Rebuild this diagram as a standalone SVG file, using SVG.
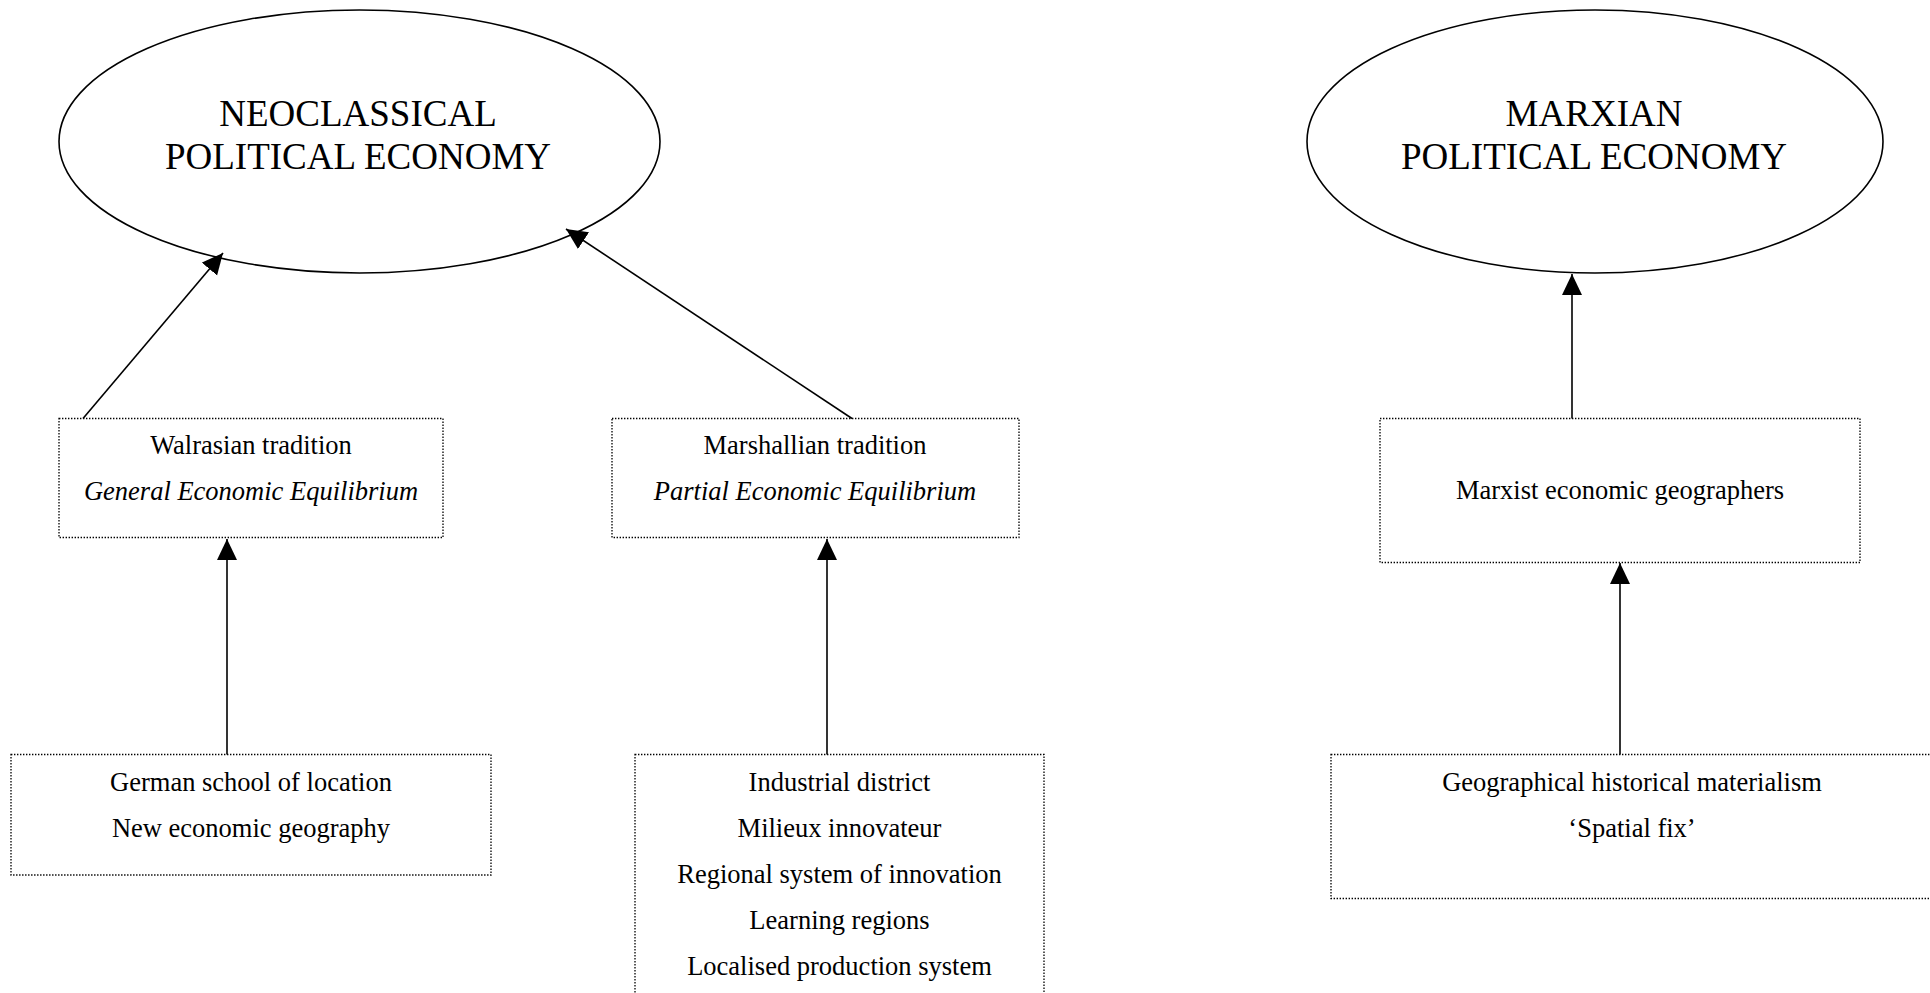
<svg xmlns="http://www.w3.org/2000/svg" width="1930" height="993" viewBox="0 0 1930 993">
<style>
.ell{fill:#fff;stroke:#000;stroke-width:1.6}
.box{fill:#fff;stroke:#000;stroke-width:1.3;stroke-dasharray:1.4 1.6}
.big{font-family:"Liberation Serif","Times New Roman",serif;font-size:37px;fill:#000;text-anchor:middle}
.t{font-family:"Liberation Serif","Times New Roman",serif;font-size:26.5px;fill:#000;text-anchor:middle}
.it{font-style:italic}
.con{stroke:#000;stroke-width:1.6;fill:none;marker-end:url(#ah)}
</style>
<defs>
<marker id="ah" markerUnits="userSpaceOnUse" markerWidth="22" markerHeight="21" refX="21" refY="10" orient="auto">
<path d="M0,0 L21,10 L0,20 z" fill="#000"/>
</marker>
</defs>
<rect width="1930" height="993" fill="#fff"/>
<g id="neoclassical">
<ellipse class="ell" cx="359.5" cy="141.5" rx="300.5" ry="131.5"/>
<text class="big" x="358" y="126">NEOCLASSICAL</text>
<text class="big" x="358" y="169">POLITICAL ECONOMY</text>
</g>
<g id="marxian">
<ellipse class="ell" cx="1595" cy="141.5" rx="288" ry="131.5"/>
<text class="big" x="1594" y="126">MARXIAN</text>
<text class="big" x="1594" y="169">POLITICAL ECONOMY</text>
</g>
<g id="walrasian">
<rect class="box" x="59" y="418.5" width="384" height="119"/>
<text class="t" x="251" y="454">Walrasian tradition</text>
<text class="t it" x="251" y="500">General Economic Equilibrium</text>
</g>
<g id="marshallian">
<rect class="box" x="612" y="418.5" width="407" height="119"/>
<text class="t" x="815" y="454">Marshallian tradition</text>
<text class="t it" x="815" y="500">Partial Economic Equilibrium</text>
</g>
<g id="marxist">
<rect class="box" x="1380" y="418.5" width="480" height="144"/>
<text class="t" x="1620" y="499">Marxist economic geographers</text>
</g>
<g id="german">
<rect class="box" x="11" y="754.5" width="480" height="120.5"/>
<text class="t" x="251" y="791">German school of location</text>
<text class="t" x="251" y="837">New economic geography</text>
</g>
<g id="industrial">
<rect class="box" x="635" y="754.5" width="409" height="250"/>
<text class="t" x="839.5" y="791">Industrial district</text>
<text class="t" x="839.5" y="837">Milieux innovateur</text>
<text class="t" x="839.5" y="883">Regional system of innovation</text>
<text class="t" x="839.5" y="929">Learning regions</text>
<text class="t" x="839.5" y="975">Localised production system</text>
</g>
<g id="geographical">
<rect class="box" x="1331" y="754.5" width="602" height="144"/>
<text class="t" x="1632" y="791">Geographical historical materialism</text>
<text class="t" x="1632" y="837">‘Spatial fix’</text>
</g>
<g id="connectors">
<line class="con" x1="83" y1="418.5" x2="223" y2="253"/>
<line class="con" x1="852" y1="418.5" x2="566" y2="229"/>
<line class="con" x1="1572" y1="418.5" x2="1572" y2="274"/>
<line class="con" x1="227" y1="754.5" x2="227" y2="539"/>
<line class="con" x1="827" y1="754.5" x2="827" y2="539"/>
<line class="con" x1="1620" y1="754.5" x2="1620" y2="563"/>
</g>
</svg>
